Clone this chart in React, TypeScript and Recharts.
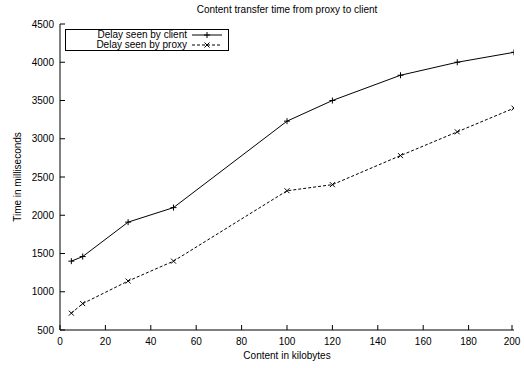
import React from 'react';
import { LineChart, Line, XAxis, YAxis, Legend } from 'recharts';

const FONT = '"Liberation Sans", Arial, Helvetica, sans-serif';

// content size in KB and measured delays (ms)
const contentKb = [5, 10, 30, 50, 100, 120, 150, 175, 200];
const clientDelay = [1400, 1460, 1910, 2100, 3230, 3500, 3830, 4000, 4130];
const proxyDelay = [720, 845, 1140, 1400, 2320, 2400, 2780, 3090, 3400];

const xTicks = [0, 20, 40, 60, 80, 100, 120, 140, 160, 180, 200];
const yTicks = [500, 1000, 1500, 2000, 2500, 3000, 3500, 4000, 4500];

const data = contentKb.map((kb, i) => ({ kb, client: clientDelay[i], proxy: proxyDelay[i] }));

const TICK_LEN = 5;

const BottomTick = ({ x, y, payload }: any) => (
  <g>
    <line x1={x} y1={y} x2={x} y2={y - TICK_LEN} stroke="#000" />
    <text x={x} y={y + 15} textAnchor="middle" fontSize={10} fontFamily={FONT} fill="#000">
      {payload.value}
    </text>
  </g>
);

const TopTick = ({ x, y }: any) => <line x1={x} y1={y} x2={x} y2={y + TICK_LEN} stroke="#000" />;

const LeftTick = ({ x, y, payload }: any) => (
  <g>
    <line x1={x} y1={y} x2={x + TICK_LEN} y2={y} stroke="#000" />
    <text x={x - 6} y={y + 3.6} textAnchor="end" fontSize={10} fontFamily={FONT} fill="#000">
      {payload.value}
    </text>
  </g>
);

const RightTick = ({ x, y }: any) => <line x1={x} y1={y} x2={x - TICK_LEN} y2={y} stroke="#000" />;

const PlusMark = ({ cx, cy }: any) => (
  <path d={`M${cx - 3},${cy}H${cx + 3}M${cx},${cy - 3}V${cy + 3}`} stroke="#000" strokeWidth={1} fill="none" />
);

const CrossMark = ({ cx, cy }: any) => (
  <path
    d={`M${cx - 2.5},${cy - 2.5}L${cx + 2.5},${cy + 2.5}M${cx - 2.5},${cy + 2.5}L${cx + 2.5},${cy - 2.5}`}
    stroke="#000"
    strokeWidth={1}
    fill="none"
  />
);

const renderLegend = ({ payload }: any) => (
  <div
    style={{
      border: '1px solid #000',
      width: 162,
      background: '#fff',
      fontFamily: FONT,
      fontSize: 10,
      color: '#000',
    }}
  >
    {(payload || []).map((entry: any) => {
      const dashed = entry.dataKey === 'proxy';
      return (
        <div
          key={entry.dataKey}
          style={{ display: 'flex', justifyContent: 'flex-end', alignItems: 'center', height: 10 }}
        >
          <span style={{ lineHeight: '10px' }}>{entry.value}</span>
          <svg width={30} height={10} style={{ marginLeft: 5, marginRight: 6, display: 'block' }}>
            <line x1={0} y1={5} x2={30} y2={5} stroke="#000" strokeDasharray={dashed ? '3 2' : undefined} />
            {dashed ? <CrossMark cx={15} cy={5} /> : <PlusMark cx={15} cy={5} />}
          </svg>
        </div>
      );
    })}
  </div>
);

export default function App() {
  return (
    <div style={{ position: 'relative', width: 524, height: 368, background: '#fff', fontFamily: FONT }}>
      <style>{'body{margin:0}'}</style>
      <div
        style={{
          position: 'absolute',
          left: 60,
          width: 454,
          top: 4,
          textAlign: 'center',
          fontSize: 10,
          lineHeight: '12px',
        }}
      >
        Content transfer time from proxy to client
      </div>
      <div
        style={{
          position: 'absolute',
          left: 60,
          width: 454,
          top: 350,
          textAlign: 'center',
          fontSize: 10,
          lineHeight: '12px',
        }}
      >
        Content in kilobytes
      </div>
      <div
        style={{
          position: 'absolute',
          left: 18 - 60,
          top: 177 - 6,
          width: 120,
          textAlign: 'center',
          fontSize: 10,
          lineHeight: '12px',
          transform: 'rotate(-90deg)',
        }}
      >
        Time in milliseconds
      </div>
      <LineChart width={524} height={368} data={data} margin={{ top: 24, right: 10, bottom: 0, left: 0 }}>
        <XAxis
          dataKey="kb"
          type="number"
          domain={[0, 200]}
          ticks={xTicks}
          height={38}
          tickSize={0}
          tickMargin={0}
          tickLine={false}
          tick={<BottomTick />}
          axisLine={{ stroke: '#000' }}
          allowDataOverflow
        />
        <XAxis
          xAxisId="top"
          orientation="top"
          type="number"
          domain={[0, 200]}
          ticks={xTicks}
          height={0}
          tickSize={0}
          tickMargin={0}
          tickLine={false}
          tick={<TopTick />}
          axisLine={{ stroke: '#000' }}
          allowDataOverflow
        />
        <YAxis
          type="number"
          domain={[500, 4500]}
          ticks={yTicks}
          width={60}
          tickSize={0}
          tickMargin={0}
          tickLine={false}
          tick={<LeftTick />}
          axisLine={{ stroke: '#000' }}
          allowDataOverflow
        />
        <YAxis
          yAxisId="right"
          orientation="right"
          type="number"
          domain={[500, 4500]}
          ticks={yTicks}
          width={0}
          tickSize={0}
          tickMargin={0}
          tickLine={false}
          tick={<RightTick />}
          axisLine={{ stroke: '#000' }}
          allowDataOverflow
        />
        <Legend
          layout="vertical"
          align="center"
          verticalAlign="middle"
          content={renderLegend}
          wrapperStyle={{ top: 29, left: 65, width: 'auto' }}
        />
        <Line
          type="linear"
          dataKey="client"
          name="Delay seen by client"
          stroke="#000"
          strokeWidth={1}
          dot={(p: any) => <PlusMark key={`c${p.index}`} cx={p.cx} cy={p.cy} />}
          activeDot={false}
          isAnimationActive={false}
        />
        <Line
          type="linear"
          dataKey="proxy"
          name="Delay seen by proxy"
          stroke="#000"
          strokeWidth={1}
          strokeDasharray="3 2"
          dot={(p: any) => <CrossMark key={`p${p.index}`} cx={p.cx} cy={p.cy} />}
          activeDot={false}
          isAnimationActive={false}
        />
      </LineChart>
    </div>
  );
}
